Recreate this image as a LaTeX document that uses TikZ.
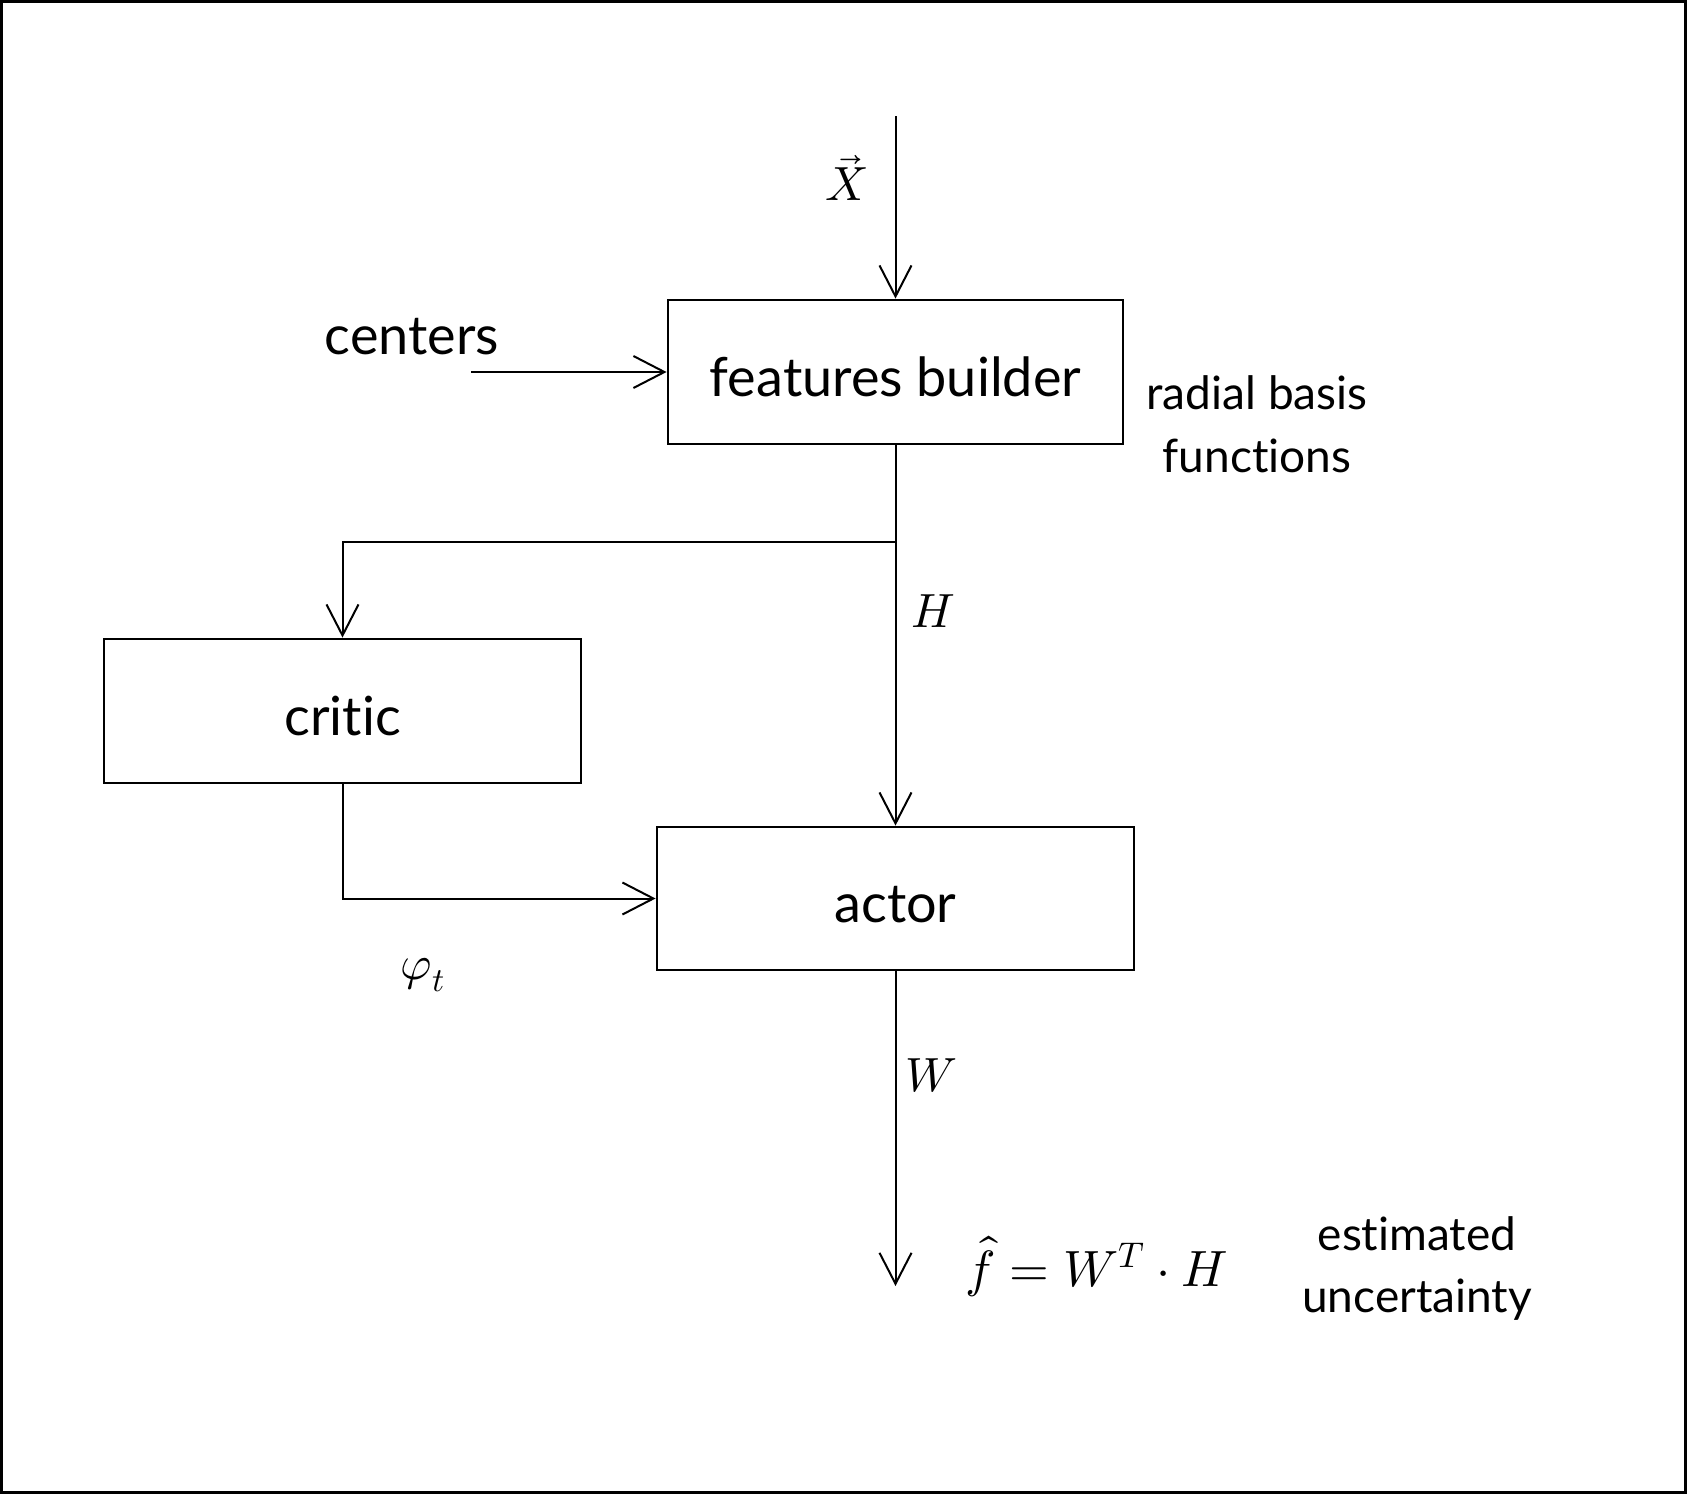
\documentclass[tikz,border=0pt]{standalone}
\usepackage{fontspec}
\usepackage{unicode-math}
\setmainfont{Lato}[Ligatures={NoCommon,NoRare,NoContextual},Contextuals={NoAlternate}]
\setmathfont{Latin Modern Math}
\usetikzlibrary{arrows.meta}
\begin{document}
\begin{tikzpicture}[x=1pt,y=-1pt,
  box/.style={draw,line width=2.8pt,inner sep=0pt,rectangle,text height=48pt,text depth=0pt,font=\fontsize{54}{60}\selectfont},
  arr/.style={line width=2pt,-{Straight Barb[length=31pt,width=32pt,line width=2pt]}},
  big/.style={font=\fontsize{54}{60}\selectfont},
  small/.style={font=\fontsize{46}{52}\selectfont},
  mathlbl/.style={font=\fontsize{48}{54}\selectfont}]
\useasboundingbox (0,0) rectangle (1687,1494);
\draw[line width=3pt] (1.5,1.5) rectangle (1685.5,1492.5);
% boxes
\node[box,minimum width=455pt,minimum height=144pt] (fb) at (895.5,372) {features builder};
\node[box,minimum width=477pt,minimum height=144pt] (critic) at (342.5,711) {crit\kern0pt ic};
\node[box,minimum width=477pt,minimum height=143pt] (actor) at (895.5,898.5) {actor};
% coordinates
\coordinate (xin) at (895.5,116);
\coordinate (cin) at (471,372);
\coordinate (br) at (895.5,542);
\coordinate (out) at (895.5,1286);
% connectors
\draw[arr] (xin) -- (fb.north);
\draw[arr,line width=2.5pt] (cin) -- (fb.west);
\draw[arr] (fb.south) -- (actor.north);
\draw[arr] (br) -| (critic.north);
\draw[arr] (critic.south) |- (actor.west);
\draw[arr] (actor.south) -- (out);
% labels
\node[mathlbl] (xl) at (847,178) {$\vec{X}$};
\node[big] (cl) at (412,337) {centers};
\node[small] (rb) at (1257,393) {radial basis};
\node[small] (fn) at (1257,456) {funct\kern0pt ions};
\node[mathlbl] (hl) at (933,611) {$H$};
\node[mathlbl] (pl) at (423,975) {$\varphi_t$};
\node[mathlbl] (wl) at (931,1076) {$W$};
\node[font=\fontsize{51}{56}\selectfont] (fl) at (1097,1266) {$\hat{f} = W^{T}\cdot H$};
\node[small] (el) at (1417,1234) {estimated};
\node[small] (ul) at (1417,1300) {uncertainty};
\end{tikzpicture}
\end{document}
